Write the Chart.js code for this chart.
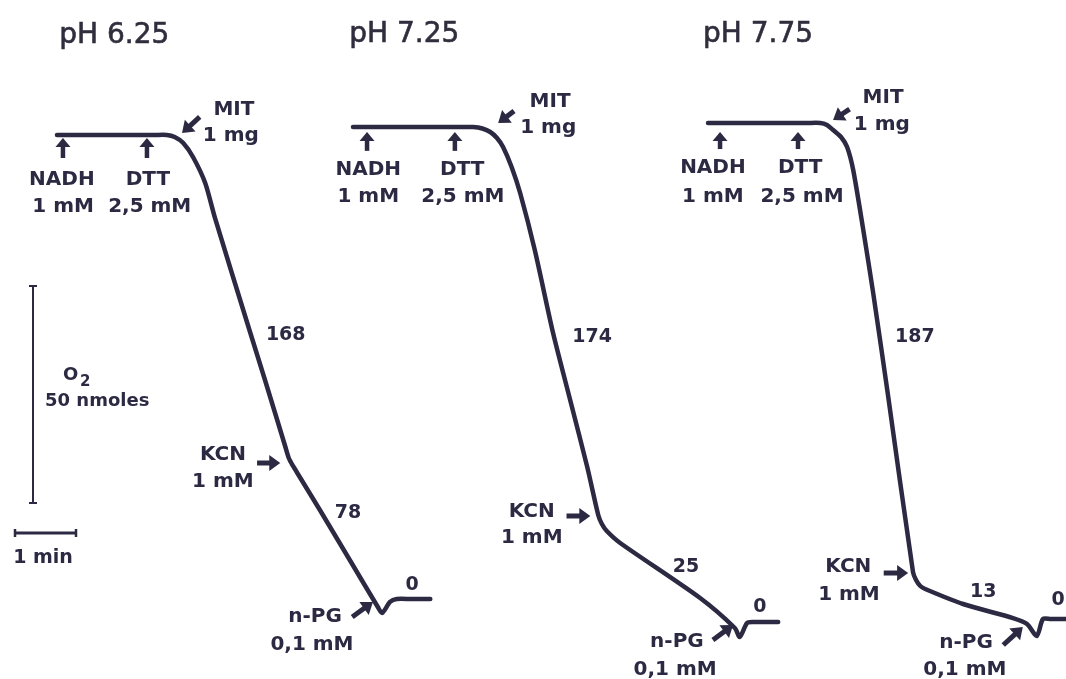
<!DOCTYPE html>
<html>
<head>
<meta charset="utf-8">
<script src="https://cdn.jsdelivr.net/npm/chart.js@4/dist/chart.umd.min.js"></script>
<style>
  html, body { margin: 0; padding: 0; background: #ffffff; }
  #wrap { width: 1066px; height: 679px; }
</style>
</head>
<body>
<div id="wrap"><canvas id="c"></canvas></div>
<script>
// Oxygen electrode traces: time from start of each recording (min)
// and change in dissolved O2 (nmol) relative to the starting level.
const time625 = [0, 1.60, 1.80, 1.93, 2.07, 2.23, 2.43, 2.59, 3.16, 3.41, 3.74, 3.80, 3.87, 3.98, 4.31, 4.80, 5.26, 5.33, 5.46, 5.57, 5.80, 6.12];
const o2_625  = [0, 0, 0, -0.46, -1.84, -5.07, -11.06, -19.12, -45.16, -56.45, -71.66, -74.42, -76.27, -78.80, -86.41, -97.93, -108.76, -110.14, -107.60, -106.91, -106.91, -106.91];

const time725 = [0, 1.75, 1.97, 2.12, 2.25, 2.36, 2.46, 2.60, 2.74, 2.98, 3.28, 3.56, 3.84, 4.02, 4.08, 4.16, 4.38, 5.69, 6.26, 6.34, 6.46, 6.56, 6.75, 6.97];
const o2_725  = [0, 0, 0, -0.35, -1.15, -2.53, -4.61, -9.22, -15.21, -28.34, -47.47, -62.90, -78.34, -89.40, -91.47, -93.09, -95.85, -108.53, -115.44, -117.51, -114.29, -114.06, -114.06, -114.06];

const time775 = [0, 1.62, 1.84, 1.95, 2.05, 2.18, 2.28, 2.38, 2.54, 2.71, 2.95, 3.36, 3.41, 3.48, 3.56, 4.18, 5.00, 5.23, 5.39, 5.49, 5.62, 5.87];
const o2_775  = [0, 0, 0, -0.46, -1.61, -3.23, -5.53, -10.83, -24.19, -39.40, -62.67, -103.46, -105.30, -106.68, -107.37, -110.83, -114.06, -115.44, -118.20, -114.29, -114.29, -114.29];

// Panel headings and respiration rates written beside each slope
const panelTitles = ['pH 6.25', 'pH 7.25', 'pH 7.75'];
const rates625 = ['168', '78', '0'];
const rates725 = ['174', '25', '0'];
const rates775 = ['187', '13', '0'];

// Additions and their concentrations
const additions = ['NADH', 'DTT', 'MIT', 'KCN', 'n-PG'];
const doses = ['1 mM', '2,5 mM', '1 mg', '1 mM', '0,1 mM'];

// Calibration bars
const barO2 = 50;      // nmol
const barTime = 1;     // min
const barO2Label = '50 nmoles';
const barTimeLabel = '1 min';

// ---- layout (axis units: min horizontally, nmol vertically) ----
const PX_PER_MIN = 61;
const PX_PER_NMOL = 4.34;
const W = 1066, H = 679;
const X_MAX = W / PX_PER_MIN;
const Y_MAX = H / PX_PER_NMOL;

const INK = '#2c2942';
const FONT = '"DejaVu Sans", Verdana, sans-serif';

// where each recording starts, and the label placements in that recording's own units
const panels = [
  {
    t0: 0.934, o0: 125.35, time: time625, o2: o2_625, title: panelTitles[0], rates: rates625,
    titleAt: [0.94, 21.2],
    upArrows: [[0.098, -5.3, -0.69], [1.475, -5.3, -0.69]],
    addLabels: [[0.08, -11.52], [1.49, -11.52]], doseLabels: [[0.10, -17.74], [1.52, -17.74]],
    mit: { label: [2.90, 4.61], dose: [2.85, -1.38], tail: [2.34, 4.15], head: [2.05, 0.46] },
    kcn: { label: [2.72, -74.88], dose: [2.72, -81.11], tail: [3.28, -75.58], head: [3.66, -75.58] },
    npg: { label: [4.23, -112.21], dose: [4.18, -118.66], tail: [4.84, -111.06], head: [5.18, -107.60] },
    rateAt: [[3.75, -47.24], [4.77, -88.25], [5.82, -104.84]]
  },
  {
    t0: 5.787, o0: 127.19, time: time725, o2: o2_725, title: panelTitles[1], rates: rates725,
    titleAt: [0.84, 19.59],
    upArrows: [[0.23, -5.5, -1.15], [1.67, -5.5, -1.15]],
    addLabels: [[0.25, -11.06], [1.79, -11.06]], doseLabels: [[0.25, -17.28], [1.80, -17.28]],
    mit: { label: [3.23, 4.61], dose: [3.20, -1.38], tail: [2.64, 3.7], head: [2.38, 0.92] },
    kcn: { label: [2.93, -89.86], dose: [2.93, -95.85], tail: [3.50, -89.63], head: [3.89, -89.63] },
    npg: { label: [5.31, -119.82], dose: [5.28, -126.27], tail: [5.90, -118.20], head: [6.23, -114.75] },
    rateAt: [[3.92, -49.54], [5.46, -102.53], [6.67, -111.75]]
  },
  {
    t0: 11.607, o0: 128.11, time: time775, o2: o2_775, title: panelTitles[2], rates: rates775,
    titleAt: [0.82, 18.66],
    upArrows: [[0.197, -6.0, -2.07], [1.475, -6.0, -2.07]],
    addLabels: [[0.08, -11.52], [1.51, -11.52]], doseLabels: [[0.08, -18.2], [1.54, -18.2]],
    mit: { label: [2.87, 4.61], dose: [2.85, -1.61], tail: [2.32, 3.2], head: [2.05, 0.69] },
    kcn: { label: [2.30, -103.46], dose: [2.31, -109.91], tail: [2.88, -103.69], head: [3.28, -103.69] },
    npg: { label: [4.23, -121.06], dose: [4.21, -127.30], tail: [4.84, -120.28], head: [5.16, -116.13] },
    rateAt: [[3.39, -50.46], [4.51, -109.22], [5.74, -111.06]]
  }
];

// calibration bar anchors (axis units)
const scaleO2 = { x: 0.541, y0: 40.55 };
const scaleTime = { x0: 0.246, y: 33.64 };

// ---- datasets ----
const datasets = panels.map(p => ({
  data: p.time.map((t, i) => ({ x: p.t0 + t, y: p.o0 + p.o2[i] })),
  showLine: true,
  borderColor: INK,
  borderWidth: 4.5,
  borderCapStyle: 'round',
  borderJoinStyle: 'round',
  tension: 0.25,
  pointRadius: 0,
  clip: false
}));

datasets.push({
  data: [{ x: scaleO2.x, y: scaleO2.y0 }, { x: scaleO2.x, y: scaleO2.y0 + barO2 }],
  showLine: true, borderColor: INK, borderWidth: 2,
  pointStyle: 'line', pointRadius: 4, pointBorderWidth: 2, pointBorderColor: INK
});
datasets.push({
  data: [{ x: scaleTime.x0, y: scaleTime.y }, { x: scaleTime.x0 + barTime, y: scaleTime.y }],
  showLine: true, borderColor: INK, borderWidth: 3,
  pointStyle: 'line', pointRotation: 90, pointRadius: 4, pointBorderWidth: 2.5, pointBorderColor: INK
});

// ---- drawing helpers ----
function drawText(ctx, s, x, y, size, align) {
  ctx.font = 'bold ' + size + 'px ' + FONT;
  ctx.textAlign = align || 'center';
  ctx.textBaseline = 'alphabetic';
  ctx.fillText(s, x, y);
}

function drawArrow(ctx, x1, y1, x2, y2, headLen, headHalf, shaft) {
  const a = Math.atan2(y2 - y1, x2 - x1);
  const bx = x2 - headLen * Math.cos(a), by = y2 - headLen * Math.sin(a);
  ctx.lineWidth = shaft;
  ctx.lineCap = 'butt';
  ctx.beginPath(); ctx.moveTo(x1, y1); ctx.lineTo(bx + Math.cos(a), by + Math.sin(a)); ctx.stroke();
  ctx.beginPath();
  ctx.moveTo(x2, y2);
  ctx.lineTo(bx + headHalf * Math.sin(a), by - headHalf * Math.cos(a));
  ctx.lineTo(bx - headHalf * Math.sin(a), by + headHalf * Math.cos(a));
  ctx.closePath(); ctx.fill();
}

const notesPlugin = {
  id: 'traceNotes',
  beforeDraw(chart) {
    const ctx = chart.ctx;
    ctx.save(); ctx.fillStyle = '#ffffff'; ctx.fillRect(0, 0, chart.width, chart.height); ctx.restore();
  },
  afterDatasetsDraw(chart) {
    const ctx = chart.ctx, xs = chart.scales.x, ys = chart.scales.y;
    const px = v => xs.getPixelForValue(v), py = v => ys.getPixelForValue(v);
    ctx.save();
    ctx.fillStyle = INK; ctx.strokeStyle = INK;

    panels.forEach(p => {
      const X = t => px(p.t0 + t), Y = d => py(p.o0 + d);
      const at = (pt) => [X(pt[0]), Y(pt[1])];

      // heading
      const q = at(p.titleAt);
      ctx.fillStyle = '#302e3d'; ctx.strokeStyle = '#302e3d';
      ctx.font = '28px ' + FONT; ctx.textAlign = 'center'; ctx.textBaseline = 'alphabetic';
      ctx.lineWidth = 0.6;
      ctx.fillText(p.title, q[0], q[1]); ctx.strokeText(p.title, q[0], q[1]);
      ctx.fillStyle = INK; ctx.strokeStyle = INK;

      // NADH and DTT additions
      p.upArrows.forEach(a => drawArrow(ctx, X(a[0]), Y(a[1]), X(a[0]), Y(a[2]), 9, 7.5, 4.5));
      p.addLabels.forEach((l, i) => { const c = at(l); drawText(ctx, additions[i], c[0], c[1], 20); });
      p.doseLabels.forEach((l, i) => { const c = at(l); drawText(ctx, doses[i], c[0], c[1], 20); });

      // MIT, KCN and n-PG additions
      [['mit', 2], ['kcn', 3], ['npg', 4]].forEach(([k, i]) => {
        const n = p[k];
        let c = at(n.label); drawText(ctx, additions[i], c[0], c[1], 20);
        c = at(n.dose); drawText(ctx, doses[i], c[0], c[1], 20);
        const t = at(n.tail), h = at(n.head);
        drawArrow(ctx, t[0], t[1], h[0], h[1], 11, 8, 5);
      });

      // rates
      p.rates.forEach((r, i) => { const c = at(p.rateAt[i]); drawText(ctx, r, c[0], c[1], 19); });
    });

    // calibration labels
    drawText(ctx, 'O', px(1.033), py(68.89), 18, 'left');
    drawText(ctx, '2', px(1.311), py(67.51), 15, 'left');
    drawText(ctx, barO2Label, px(0.738), py(62.90), 18, 'left');
    drawText(ctx, barTimeLabel, px(0.705), py(26.73), 19, 'center');
    ctx.restore();
  }
};

new Chart(document.getElementById('c'), {
  type: 'scatter',
  data: { datasets },
  options: {
    responsive: true,
    maintainAspectRatio: false,
    animation: false,
    events: [],
    layout: { padding: 0, autoPadding: false },
    plugins: { legend: { display: false }, tooltip: { enabled: false }, title: { display: false } },
    scales: {
      x: { type: 'linear', min: 0, max: X_MAX, display: false },
      y: { type: 'linear', min: 0, max: Y_MAX, display: false }
    }
  },
  plugins: [notesPlugin]
});
</script>
</body>
</html>
